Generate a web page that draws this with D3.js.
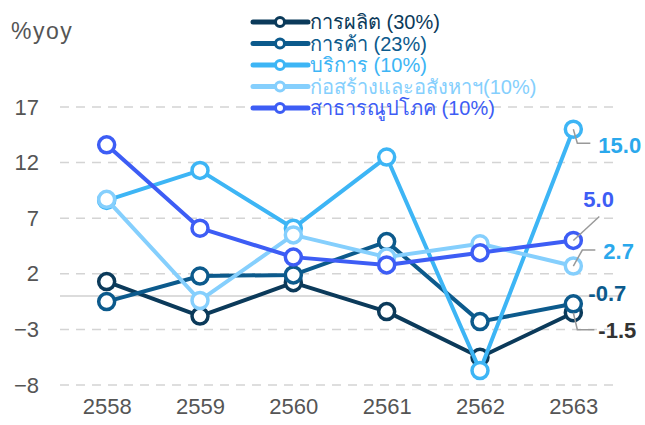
<!DOCTYPE html>
<html>
<head>
<meta charset="utf-8">
<script src="https://cdn.jsdelivr.net/npm/d3@7"></script>
<style>
  html, body { margin: 0; padding: 0; background: #fff; }
  svg { display: block; font-family: "Liberation Sans", Arial, "Noto Sans", sans-serif; }
</style>
</head>
<body>
<svg id="chart" width="645" height="425"></svg>
<script>
// Years (Thai Buddhist calendar)
const years = ["2558", "2559", "2560", "2561", "2562", "2563"];

// Growth by sector, %yoy
const manufacturing = [1.3, -1.8, 1.2, -1.4, -5.5, -1.5];
const trade         = [-0.5, 1.8, 1.9, 4.9, -2.3, -0.7];
const services      = [8.6, 11.3, 6.1, 12.5, -6.7, 15.0];
const construction  = [8.7, -0.4, 5.5, 3.5, 4.7, 2.7];
const utilities     = [13.6, 6.1, 3.5, 2.8, 3.9, 5.0];

const seriesNames = ["การผลิต (30%)", "การค้า (23%)", "บริการ (10%)", "ก่อสร้างและอสังหาฯ(10%)", "สาธารณูปโภค (10%)"];
const seriesValues = [manufacturing, trade, services, construction, utilities];
const seriesColors = ["#0b3a5a", "#0c5a8c", "#3db5f5", "#85cffd", "#3d5df5"];

const yTicks = [-8, -3, 2, 7, 12, 17];

// Last-point value labels
const endLabels = [
  { series: 2, text: "15.0", color: "#2aa8ec" },
  { series: 4, text: "5.0",  color: "#3d5df5" },
  { series: 3, text: "2.7",  color: "#2aa8ec" },
  { series: 1, text: "-0.7", color: "#0c5a8c" },
  { series: 0, text: "-1.5", color: "#333333" }
];

const svg = d3.select("#chart");
const plot = { left: 60, right: 620, top: 107, bottom: 385 };

const x = d3.scalePoint().domain(years).range([plot.left, plot.right]).padding(0.5);
const y = d3.scaleLinear().domain([-8, 17]).range([plot.bottom, plot.top]);

// Dashed gridlines
svg.append("g").selectAll("line").data(yTicks).join("line")
  .attr("x1", plot.left).attr("x2", plot.right)
  .attr("y1", d => y(d)).attr("y2", d => y(d))
  .attr("stroke", "#d4d4d4").attr("stroke-width", 1.5)
  .attr("stroke-dasharray", "9,7");

// Zero line
svg.append("line")
  .attr("x1", plot.left).attr("x2", plot.right)
  .attr("y1", y(0)).attr("y2", y(0))
  .attr("stroke", "#d0d0d0").attr("stroke-width", 1.5);

// Y axis labels
const yAxis = svg.append("g")
  .attr("transform", `translate(${plot.left - 21},0)`)
  .call(d3.axisLeft(y).tickValues(yTicks).tickSize(0).tickPadding(0));
yAxis.select(".domain").remove();
yAxis.selectAll("text")
  .attr("font-size", 22).attr("fill", "#555").attr("font-family", "Liberation Sans, Arial, sans-serif");

// X axis labels
const xAxis = svg.append("g")
  .attr("transform", `translate(0,${plot.bottom + 13})`)
  .call(d3.axisBottom(x).tickSize(0).tickPadding(0));
xAxis.select(".domain").remove();
xAxis.selectAll("text")
  .attr("font-size", 22).attr("fill", "#555").attr("font-family", "Liberation Sans, Arial, sans-serif");

// Unit label
svg.append("text")
  .attr("x", 11).attr("y", 39)
  .attr("font-size", 23).attr("fill", "#555")
  .attr("letter-spacing", 1.5)
  .text("%yoy");

// Lines and markers
const line = d3.line().x((d, i) => x(years[i])).y(d => y(d));
seriesValues.forEach((vals, s) => {
  const g = svg.append("g");
  g.append("path").datum(vals)
    .attr("d", line)
    .attr("fill", "none")
    .attr("stroke", seriesColors[s])
    .attr("stroke-width", 4)
    .attr("stroke-linejoin", "round");
  g.selectAll("circle").data(vals).join("circle")
    .attr("cx", (d, i) => x(years[i]))
    .attr("cy", d => y(d))
    .attr("r", 8)
    .attr("fill", "#fff")
    .attr("stroke", seriesColors[s])
    .attr("stroke-width", 3.5);
});

// End labels with leader lines
const lastX = x(years[years.length - 1]);
const lastY = i => y(seriesValues[i][years.length - 1]);
const leaders = {
  2: [[0, 0], [4, 14], [17, 14]],
  4: [[0, 0], [26, -24]],
  3: [[0, 0], [9, -16], [22, -16]],
  0: [[0, 0], [4, 17], [21, 17]]
};
const labelOffset = {
  2: [25, 16],
  4: [10, -41],
  3: [30, -15],
  1: [15, -11],
  0: [25, 18]
};
const lg = svg.append("g");
endLabels.forEach(l => {
  const px = lastX, py = lastY(l.series);
  if (leaders[l.series]) {
    lg.append("path")
      .attr("d", d3.line()(leaders[l.series].map(([dx, dy]) => [px + dx, py + dy])))
      .attr("fill", "none").attr("stroke", "#999").attr("stroke-width", 1.5);
  }
  const [ox, oy] = labelOffset[l.series];
  lg.append("text")
    .attr("x", px + ox).attr("y", py + oy)
    .attr("dy", "0.35em")
    .attr("font-size", 22).attr("font-weight", "bold")
    .attr("fill", l.color)
    .text(l.text);
});

// Legend
const legend = svg.append("g").attr("transform", "translate(253,22)");
seriesNames.forEach((name, s) => {
  const row = legend.append("g").attr("transform", `translate(0,${s * 21.5})`);
  row.append("line").attr("x1", 0).attr("x2", 55).attr("y1", 0).attr("y2", 0)
    .attr("stroke", seriesColors[s]).attr("stroke-width", 5).attr("stroke-linecap", "round");
  row.append("circle").attr("cx", 27).attr("cy", 0).attr("r", 4.5)
    .attr("fill", "#fff").attr("stroke", seriesColors[s]).attr("stroke-width", 3);
  row.append("text").attr("x", 57).attr("y", 0).attr("dy", "0.35em")
    .attr("font-size", 20).attr("fill", seriesColors[s])
    .text(name);
});
</script>
</body>
</html>
